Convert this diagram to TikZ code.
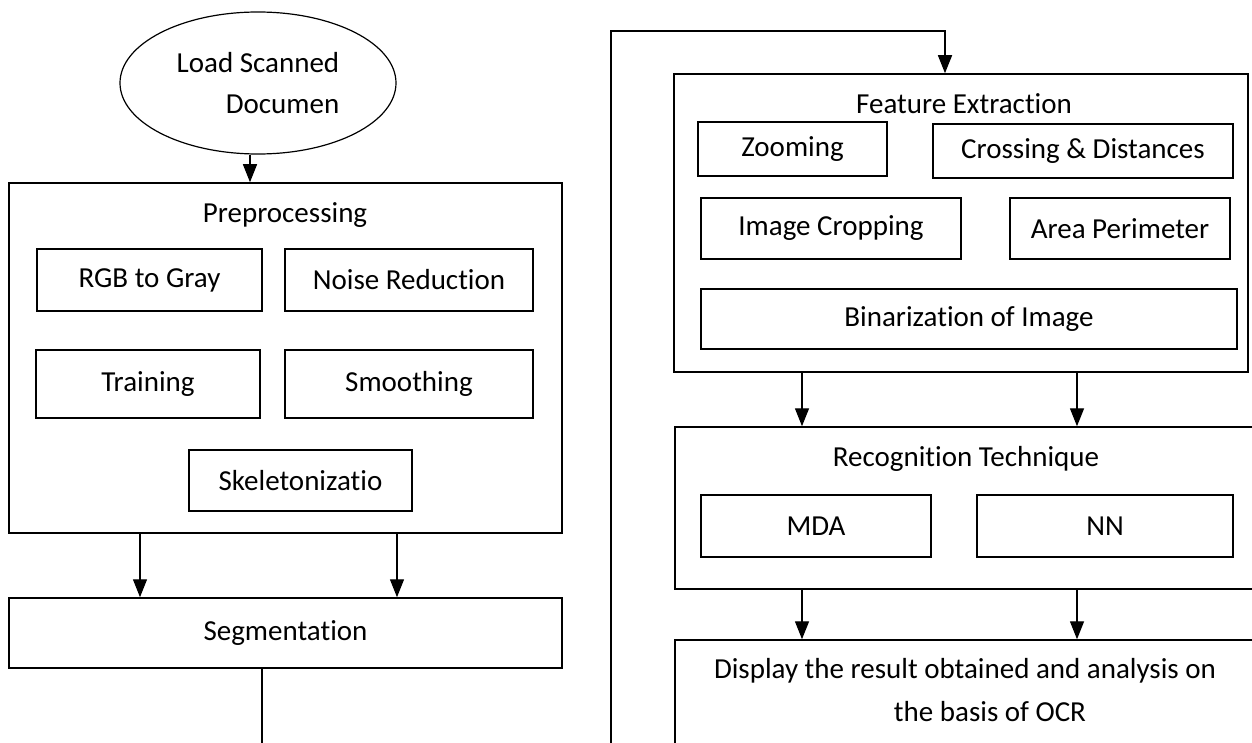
\documentclass[tikz,border=0pt]{standalone}
\usepackage{fontspec}
\setmainfont{Carlito}[Ligatures={NoCommon}]
\usetikzlibrary{shapes.geometric,arrows.meta}
\begin{document}
\begin{tikzpicture}[x=1pt,y=-1pt,
  every node/.style={font=\fontsize{29}{41}\selectfont, inner sep=0pt},
  ell/.style={draw, ellipse, line width=1.2pt, minimum width=276, minimum height=142, align=right},
  cont/.style={draw, rectangle, line width=1.5pt},
  box/.style={draw, rectangle, line width=1.5pt, align=center},
  title/.style={},
  line/.style={draw, line width=1.4pt},
  arr/.style={draw, line width=1.4pt, -{Triangle[length=18pt,width=14pt]}}]
\useasboundingbox (0,0) rectangle (1252,743);
% left column
\node[ell] (load) at (258,83) {Load Scanned\\Documen};
\node[cont, minimum width=553, minimum height=350] (pre) at (285.5,358) {};
\node[title] (pretitle) at (285,215) {Preprocessing};
\node[box, minimum width=225, minimum height=62] (rgb) at (149.5,280) {RGB to Gray};
\node[box, minimum width=248, minimum height=62] (noise) at (409,280) {Noise Reduction};
\node[box, minimum width=224, minimum height=68] (train) at (148,384) {Training};
\node[box, minimum width=248, minimum height=68] (smooth) at (409,384) {Smoothing};
\node[box, minimum width=223, minimum height=61] (skel) at (300.5,480.5) {Skeletonizatio};
\node[box, minimum width=553, minimum height=70] (seg) at (285.5,633) {Segmentation};
% right column
\node[cont, minimum width=574, minimum height=298] (fe) at (961,223) {};
\node[title] (fetitle) at (964,104) {Feature Extraction};
\node[box, minimum width=189, minimum height=54] (zoom) at (792.5,149) {Zooming};
\node[box, minimum width=300, minimum height=54] (cross) at (1083,151) {Crossing \& Distances};
\node[box, minimum width=260, minimum height=61] (crop) at (831,228.5) {Image Cropping};
\node[box, minimum width=220, minimum height=61] (area) at (1120,228.5) {Area Perimeter};
\node[box, minimum width=536, minimum height=60] (bin) at (969,319) {Binarization of Image};
\node[cont, minimum width=585, minimum height=162] (rec) at (967.5,508) {};
\node[title] (rectitle) at (966,459) {Recognition Technique};
\node[box, minimum width=230, minimum height=62] (mda) at (816,526) {MDA};
\node[box, minimum width=256, minimum height=62] (nn) at (1105,526) {NN};
\node[cont, minimum width=585, minimum height=130] (disp) at (967.5,705) {};
\node[title] (disp1) at (965,671) {Display the result obtained and analysis on};
\node[title] (disp2) at (990,712) {the basis of OCR};
% helper coordinates
\coordinate (c0) at (250,0);
\coordinate (cl) at (140,0);
\coordinate (cr) at (397,0);
\coordinate (segend) at (262,760);
\coordinate (loopstart) at (611,760);
\coordinate (loopcorner) at (611,31);
\coordinate (cfe) at (945,0);
\coordinate (rl) at (802,0);
\coordinate (rr) at (1077,0);
% connectors
\draw[arr] (load.south -| c0) -- (pre.north -| c0);
\draw[arr] (pre.south -| cl) -- (seg.north -| cl);
\draw[arr] (pre.south -| cr) -- (seg.north -| cr);
\draw[line] (seg.south -| segend) -- (segend);
\draw[arr] (loopstart) -- (loopcorner) -| (fe.north -| cfe);
\draw[arr] (fe.south -| rl) -- (rec.north -| rl);
\draw[arr] (fe.south -| rr) -- (rec.north -| rr);
\draw[arr] (rec.south -| rl) -- (disp.north -| rl);
\draw[arr] (rec.south -| rr) -- (disp.north -| rr);
\end{tikzpicture}
\end{document}
